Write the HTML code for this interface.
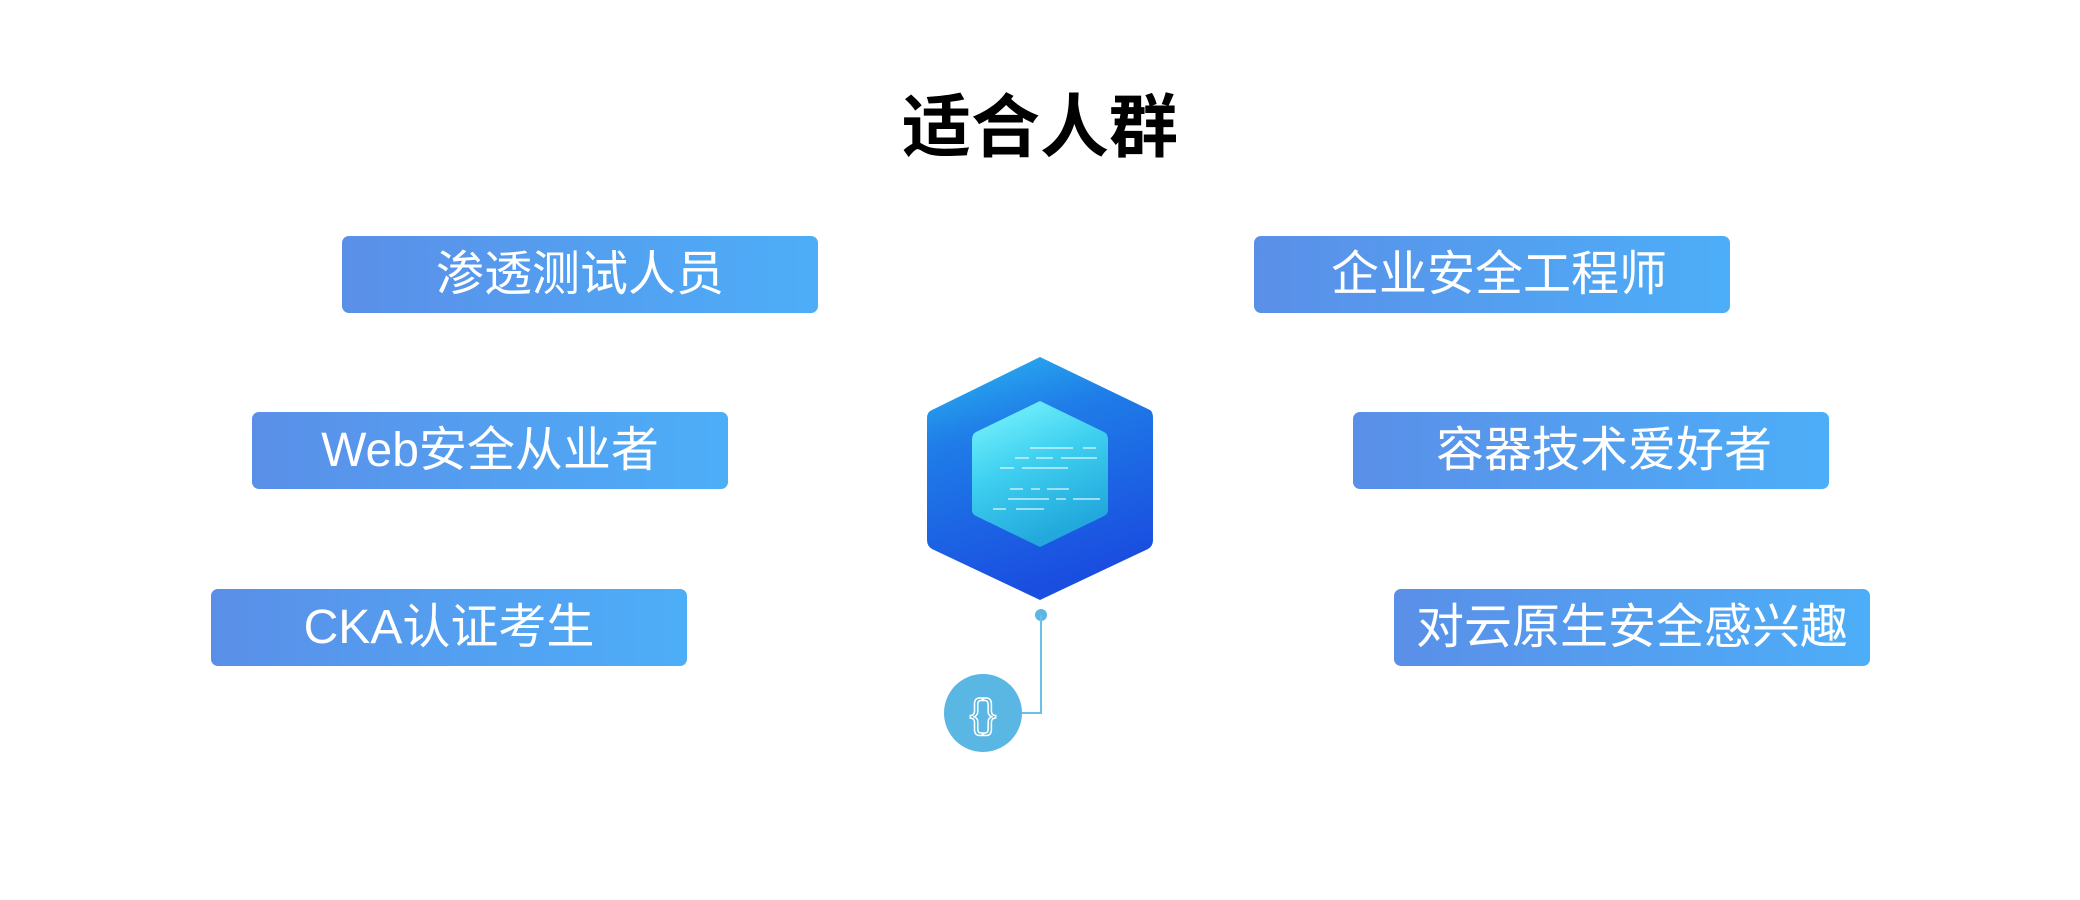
<!DOCTYPE html>
<html><head><meta charset="utf-8"><style>
html,body{margin:0;padding:0;background:#fff;}
body{width:2080px;height:900px;position:relative;overflow:hidden;font-family:"Liberation Sans","Noto Sans CJK SC",sans-serif;}
.t{position:absolute;left:0;width:2080px;top:88px;text-align:center;font-size:69px;font-weight:bold;color:#000;line-height:80px;}
.b{position:absolute;width:476px;height:77px;border-radius:7px;background:linear-gradient(90deg,#5a8fe8,#4daef8);color:#fff;font-size:48px;line-height:77px;text-align:center;}
</style></head><body>
<div class="t">适合人群</div>
<div class="b" style="left:342px;top:235px;top:236px">渗透测试人员</div>
<div class="b" style="left:1254px;top:236px;text-indent:14px">企业安全工程师</div>
<div class="b" style="left:252px;top:412px">Web安全从业者</div>
<div class="b" style="left:1353px;top:412px;text-indent:26px">容器技术爱好者</div>
<div class="b" style="left:211px;top:589px">CKA认证考生</div>
<div class="b" style="left:1394px;top:589px">对云原生安全感兴趣</div>
<svg width="2080" height="900" style="position:absolute;left:0;top:0">
<defs>
<linearGradient id="h" x1="0" y1="0" x2="0.3" y2="1"><stop offset="0" stop-color="#2bb8f0"/><stop offset="0.35" stop-color="#1f7de8"/><stop offset="1" stop-color="#1a4ee0"/></linearGradient>
<linearGradient id="c" x1="0" y1="0" x2="0.4" y2="1"><stop offset="0" stop-color="#7ff8ff"/><stop offset="0.5" stop-color="#3fd0f0"/><stop offset="1" stop-color="#22a8dc"/></linearGradient>
</defs>
<path d="M1040 357 L1150 410 Q1153 412 1153 418 L1153 540 Q1153 546 1148 549 L1040 600 L932 549 Q927 546 927 540 L927 418 Q927 412 932 410 Z" fill="url(#h)"/>
<path d="M1040 401 L1104 432 Q1108 434 1108 440 L1108 510 Q1108 514 1104 516 L1040 547 L976 516 Q972 514 972 510 L972 440 Q972 434 976 432 Z" fill="url(#c)"/>
<g stroke="#e8faff" stroke-width="1.5" opacity="0.8">
<line x1="1030" y1="448" x2="1073" y2="448"/><line x1="1083" y1="448" x2="1096" y2="448"/>
<line x1="1015" y1="458" x2="1029" y2="458"/><line x1="1036" y1="458" x2="1053" y2="458"/><line x1="1061" y1="458" x2="1097" y2="458"/>
<line x1="1000" y1="468" x2="1014" y2="468"/><line x1="1022" y1="468" x2="1068" y2="468"/>
<line x1="1010" y1="489" x2="1023" y2="489"/><line x1="1031" y1="489" x2="1040" y2="489"/><line x1="1047" y1="489" x2="1069" y2="489"/>
<line x1="1008" y1="499" x2="1049" y2="499"/><line x1="1056" y1="499" x2="1066" y2="499"/><line x1="1073" y1="499" x2="1100" y2="499"/>
<line x1="993" y1="509" x2="1006" y2="509"/><line x1="1016" y1="509" x2="1044" y2="509"/>
</g>
<circle cx="1041" cy="615" r="6" fill="#5ab6e2"/>
<polyline points="1041,615 1041,713 1020,713" fill="none" stroke="#6cc0e8" stroke-width="2"/>
<circle cx="983" cy="713" r="39" fill="#5ab6e2"/>
<text x="983" y="727" text-anchor="middle" font-family="Liberation Sans,sans-serif" font-size="40" fill="none" stroke="#fff" stroke-width="1.5">{}</text>
</svg>
</body></html>
